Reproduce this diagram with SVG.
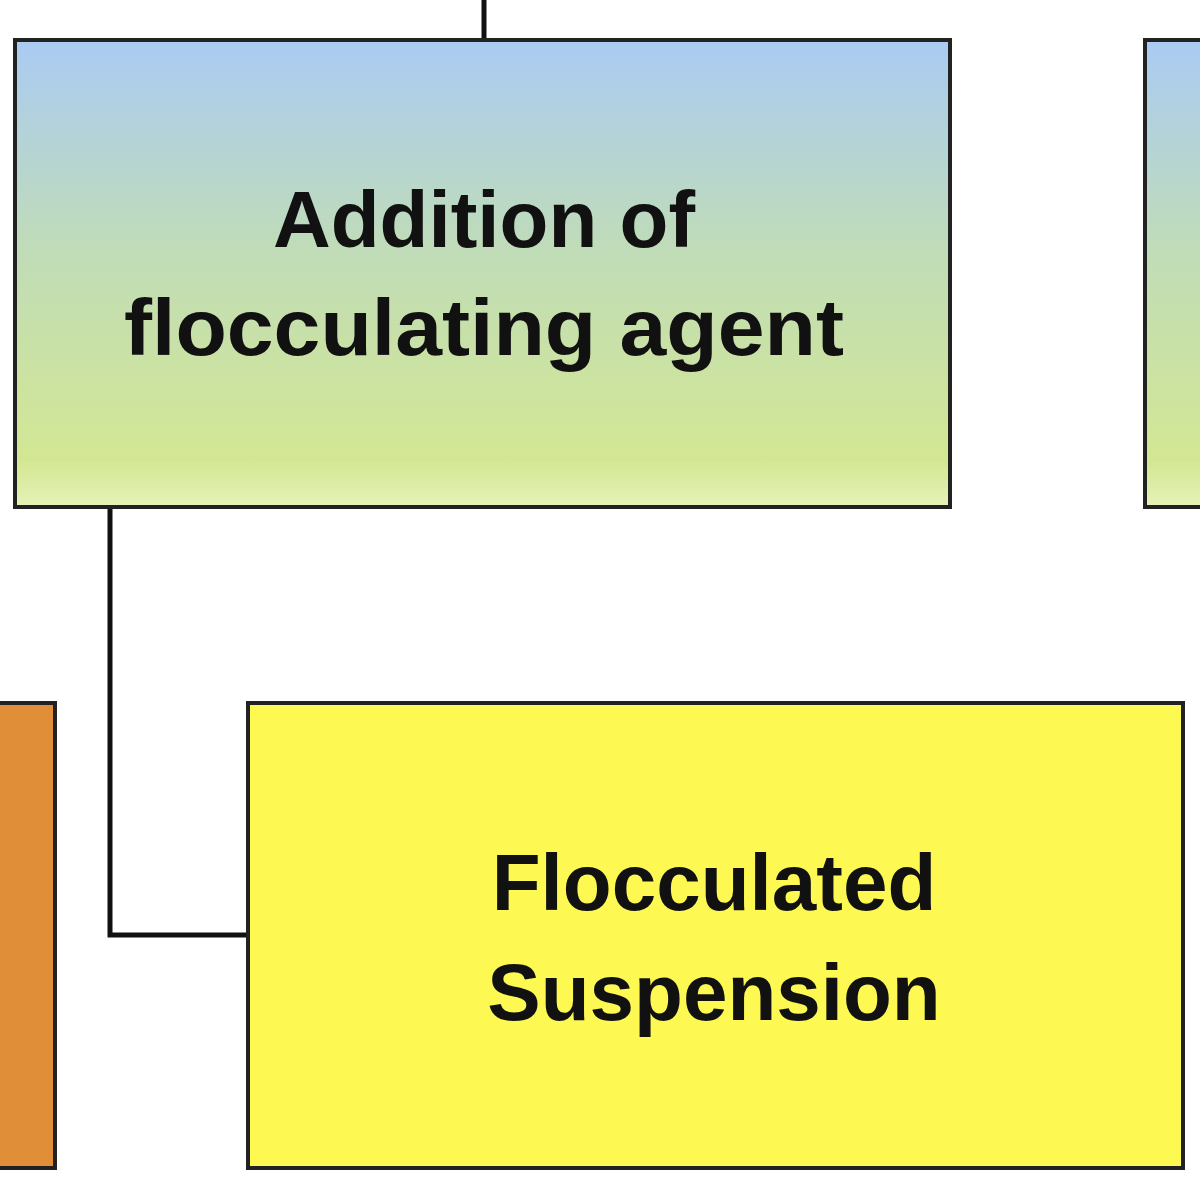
<svg xmlns="http://www.w3.org/2000/svg" width="1200" height="1200" viewBox="0 0 1200 1200">
<defs>
<linearGradient id="g" x1="0" y1="0" x2="0" y2="1">
<stop offset="0" stop-color="#aacbf3"/>
<stop offset="0.45" stop-color="#c0dcb8"/>
<stop offset="0.9" stop-color="#d3e793"/>
<stop offset="1" stop-color="#e6f2b8"/>
</linearGradient>
<style>
.box{stroke:#222;stroke-width:4}
.t{font-family:"Liberation Sans",Arial,sans-serif;font-weight:bold;font-size:80px;fill:#111;text-anchor:middle}
.c{fill:none;stroke:#111;stroke-width:5}
</style>
</defs>
<rect width="1200" height="1200" fill="#fff"/>
<g id="connectors">
<path class="c" d="M484 0 V40"/>
<path class="c" d="M110 507 V935 H248"/>
</g>
<g id="addition">
<rect class="box" x="15" y="40" width="935" height="467" fill="url(#g)"/>
<text class="t" x="484" y="247">Addition of</text>
<text class="t" x="484" y="355" textLength="720" lengthAdjust="spacingAndGlyphs">flocculating agent</text>
</g>
<g id="right-partial">
<rect class="box" x="1145" y="40" width="80" height="467" fill="url(#g)"/>
</g>
<g id="orange-partial">
<rect class="box" x="-10" y="703" width="65" height="465" fill="#e08f38"/>
</g>
<g id="flocculated">
<rect class="box" x="248" y="703" width="935" height="465" fill="#fdf952"/>
<text class="t" x="714" y="910">Flocculated</text>
<text class="t" x="714" y="1020">Suspension</text>
</g>
</svg>
